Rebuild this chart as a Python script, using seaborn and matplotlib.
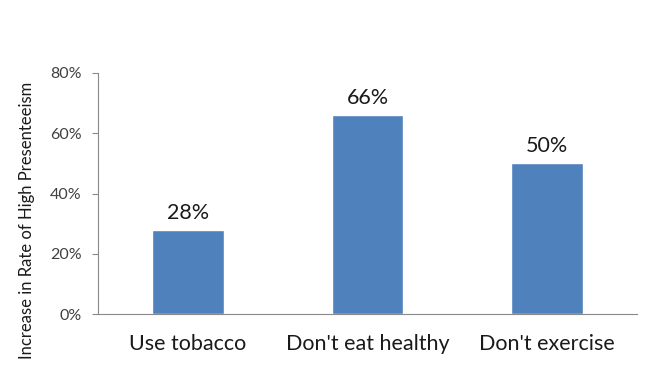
import pandas as pd
import seaborn as sns
import matplotlib.pyplot as plt
from matplotlib.ticker import PercentFormatter

# Data
categories = ["Use tobacco", "Don't eat healthy", "Don't exercise"]
values = [28, 66, 50]
y_ticks = [0, 20, 40, 60, 80]

df = pd.DataFrame({"category": categories, "value": values})

sns.set_style("white")
plt.rcParams['font.family'] = ['Lato', 'DejaVu Sans']

fig = plt.figure(figsize=(6.46, 3.78), dpi=100)
ax = fig.add_axes([0.152, 0.169, 0.834, 0.638])

sns.barplot(data=df, x="category", y="value", color="#4F81BD", saturation=1,
            width=0.4, ax=ax)

for p, v in zip(ax.patches, values):
    ax.annotate(f"{v}%", (p.get_x() + p.get_width() / 2, p.get_height()),
                xytext=(0, 5), textcoords="offset points",
                ha="center", va="bottom", fontsize=15.5, color="#1a1a1a")

ax.set_ylim(0, 80)
ax.set_yticks(y_ticks)
ax.yaxis.set_major_formatter(PercentFormatter(decimals=0))
ax.set_xlim(-0.5, 2.5)
ax.set_xlabel("")
ax.set_ylabel("Increase in Rate of High Presenteeism", fontsize=12, color="#1a1a1a")
ax.yaxis.set_label_coords(-0.117, 0.39)

ax.tick_params(axis="y", labelsize=11.5, labelcolor="#404040", length=4, width=0.8,
               left=True, color="#898989", pad=8)
ax.tick_params(axis="x", labelsize=15.5, colors="#1a1a1a", length=0, pad=14)

for side in ["top", "right"]:
    ax.spines[side].set_visible(False)
for side in ["left", "bottom"]:
    ax.spines[side].set_color("#898989")
    ax.spines[side].set_linewidth(0.8)

fig.savefig("out.png", dpi=100)
